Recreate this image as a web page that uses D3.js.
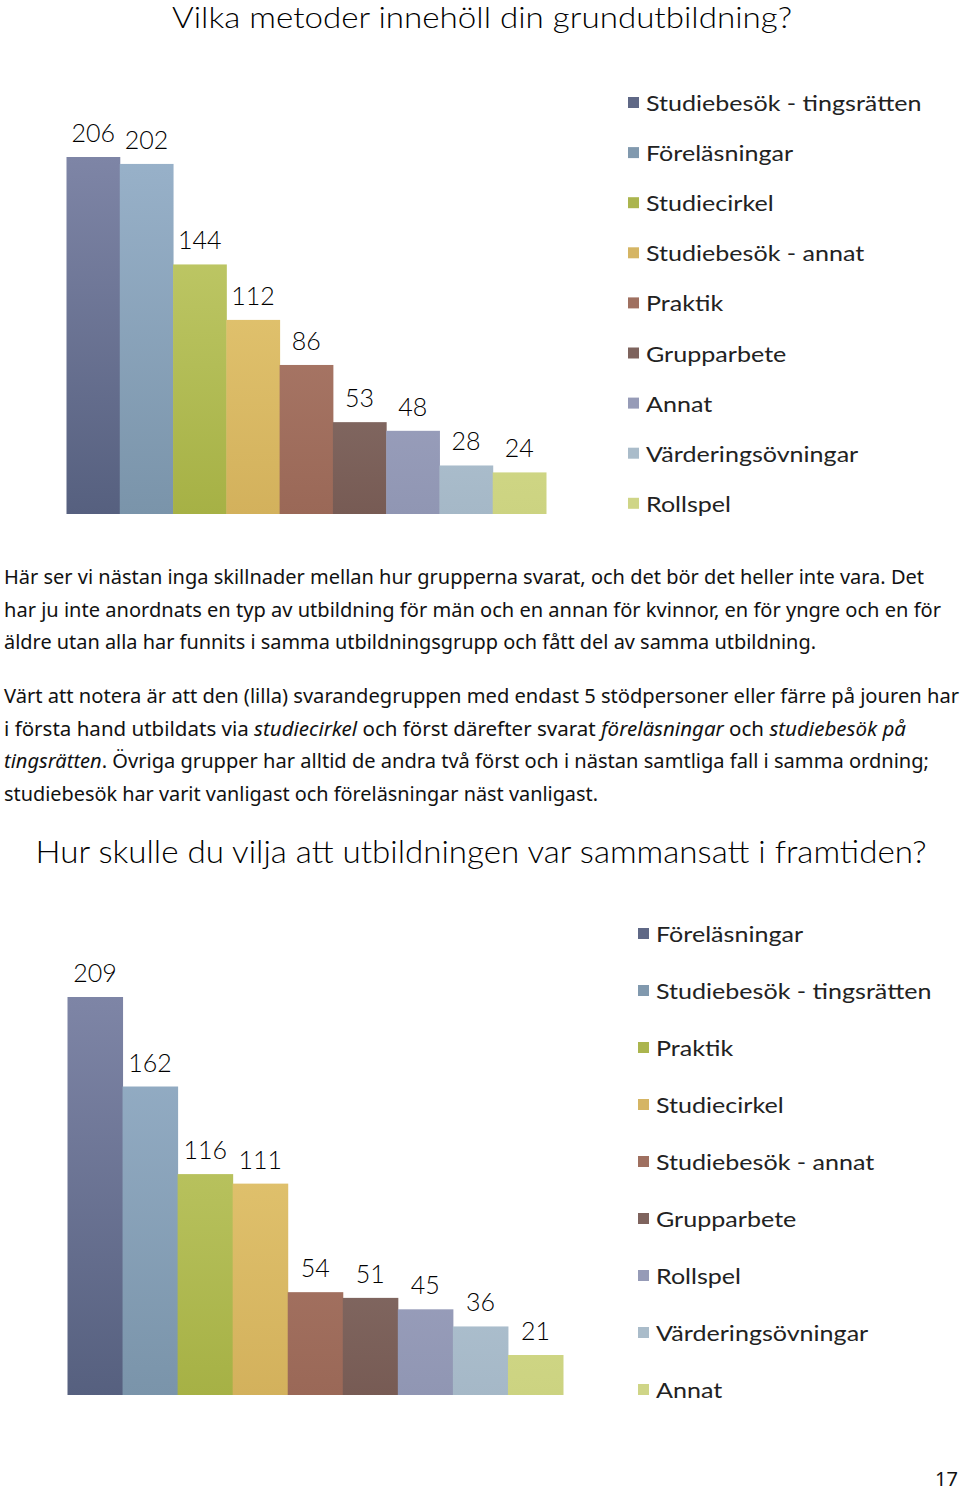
<!DOCTYPE html>
<html><head><meta charset="utf-8">
<script src="https://cdn.jsdelivr.net/npm/d3@7"></script>
<style>
html,body{margin:0;padding:0;background:#fff;}
svg{display:block;}
</style></head>
<body>
<script>
// ---- Data ----
const title1 = "Vilka metoder innehöll din grundutbildning?";
const categories1 = ["Studiebesök - tingsrätten","Föreläsningar","Studiecirkel","Studiebesök - annat","Praktik","Grupparbete","Annat","Värderingsövningar","Rollspel"];
const values1 = [206,202,144,112,86,53,48,28,24];

const title2 = "Hur skulle du vilja att utbildningen var sammansatt i framtiden?";
const categories2 = ["Föreläsningar","Studiebesök - tingsrätten","Praktik","Studiecirkel","Studiebesök - annat","Grupparbete","Rollspel","Värderingsövningar","Annat"];
const values2 = [209,162,116,111,54,51,45,36,21];

const colorsTop    = ["#7e85a6","#98b1c9","#c5ce70","#e9cd79","#b58474","#97837e","#adb0cd","#c2d3e2","#dfe697"];
const colorsBottom = ["#56607f","#7a94aa","#a6b145","#d3b15c","#9a6857","#775b54","#9096b3","#a5b8c7","#ccd381"];

const paragraph1 = [
  [["Här ser vi nästan inga skillnader mellan hur grupperna svarat, och det bör det heller inte vara. Det",0]],
  [["har ju inte anordnats en typ av utbildning för män och en annan för kvinnor, en för yngre och en för",0]],
  [["äldre utan alla har funnits i samma utbildningsgrupp och fått del av samma utbildning.",0]]
];
const paragraph2 = [
  [["Värt att notera är att den (lilla) svarandegruppen med endast 5 stödpersoner eller färre på jouren har",0]],
  [["i första hand utbildats via ",0],["studiecirkel",1],[" och först därefter svarat ",0],["föreläsningar",1],[" och ",0],["studiebesök på",1]],
  [["tingsrätten",1],[". Övriga grupper har alltid de andra två först och i nästan samtliga fall i samma ordning;",0]],
  [["studiebesök har varit vanligast och föreläsningar näst vanligast.",0]]
];
const pageNumber = "17";

// ---- Drawing ----
const W = 960, H = 1491;
const svg = d3.select("body").append("svg").attr("width", W).attr("height", H);
const defs = svg.append("defs");

const gothic = "'Lato','Open Sans',sans-serif";
const body = "'Noto Sans','Open Sans',sans-serif";

function chart(opts){
  const {cats, vals, x0, x1, yBase, yTop, vmax, legX, legY0, legStep, id} = opts;
  const x = d3.scaleBand().domain(cats).range([x0,x1]).padding(0);
  const y = d3.scaleLinear().domain([0,vmax]).range([yBase,yTop]);
  const g = svg.append("g");
  cats.forEach((c,i)=>{
    const gr = defs.append("linearGradient").attr("id",id+"_"+i)
      .attr("gradientUnits","userSpaceOnUse").attr("x1",0).attr("x2",0)
      .attr("y1", y(vmax)).attr("y2", yBase);
    gr.append("stop").attr("offset","0%").attr("stop-color",colorsTop[i]);
    gr.append("stop").attr("offset","100%").attr("stop-color",colorsBottom[i]);
  });
  g.selectAll("rect.bar").data(cats).join("rect").attr("class","bar")
    .attr("x",d=>x(d)).attr("width",x.bandwidth()+0.5)
    .attr("y",(d,i)=>y(vals[i])).attr("height",(d,i)=>yBase-y(vals[i]))
    .attr("fill",(d,i)=>`url(#${id}_${i})`);
  g.selectAll("text.val").data(cats).join("text").attr("class","val")
    .attr("x",d=>x(d)+x.bandwidth()/2)
    .attr("y",(d,i)=>y(vals[i])-15)
    .attr("text-anchor","middle")
    .attr("font-family",gothic).attr("font-weight",300).attr("font-size",25).attr("fill","#000")
    .text((d,i)=>vals[i]);
  const lg = g.append("g");
  const items = lg.selectAll("g").data(cats).join("g")
    .attr("transform",(d,i)=>`translate(${legX},${legY0+i*legStep})`);
  items.append("rect").attr("x",0).attr("y",-6).attr("width",11).attr("height",11)
    .attr("fill",(d,i)=>colorsBottom[i]).attr("opacity",0.95);
  items.append("text").attr("x",18).attr("y",8)
    .attr("font-family",gothic).attr("font-weight",400).attr("font-size",22).attr("fill","#222")
    .text(d=>d)
    .each(function(){
      const L = this.getComputedTextLength();
      d3.select(this).attr("textLength", L*1.14).attr("lengthAdjust","spacingAndGlyphs");
    });
}

// Title 1
svg.append("text").attr("x",482).attr("y",28).attr("text-anchor","middle")
  .attr("font-family",gothic).attr("font-weight",300).attr("font-size",28.5).attr("fill","#000")
  .attr("textLength",620).attr("lengthAdjust","spacingAndGlyphs").text(title1);

chart({cats:categories1, vals:values1, x0:66.5, x1:546, yBase:514, yTop:157, vmax:206,
  legX:628, legY0:103, legStep:50.1, id:"c1"});

function para(lines, y0, step, widths){
  lines.forEach((ln,i)=>{
    const t = svg.append("text").attr("x",4).attr("y",y0+i*step)
      .attr("font-family",body).attr("font-size",19).attr("fill","#111")
      .attr("textLength",widths[i]).attr("lengthAdjust","spacingAndGlyphs");
    ln.forEach(([s,it])=>{
      t.append("tspan").attr("font-style",it?"italic":"normal").text(s);
    });
  });
}
para(paragraph1, 584, 32.7, [920,937,812]);
para(paragraph2, 703, 32.7, [955,902,925,594]);

// Title 2
svg.append("text").attr("x",481).attr("y",863).attr("text-anchor","middle")
  .attr("font-family",gothic).attr("font-weight",300).attr("font-size",31).attr("fill","#000")
  .attr("textLength",891).attr("lengthAdjust","spacingAndGlyphs").text(title2);

chart({cats:categories2, vals:values2, x0:67.5, x1:563, yBase:1395, yTop:997, vmax:209,
  legX:638, legY0:934, legStep:57, id:"c2"});

svg.append("text").attr("x",958).attr("y",1486).attr("text-anchor","end")
  .attr("font-family",body).attr("font-size",20).attr("fill","#111").text(pageNumber);
</script>
</body></html>
